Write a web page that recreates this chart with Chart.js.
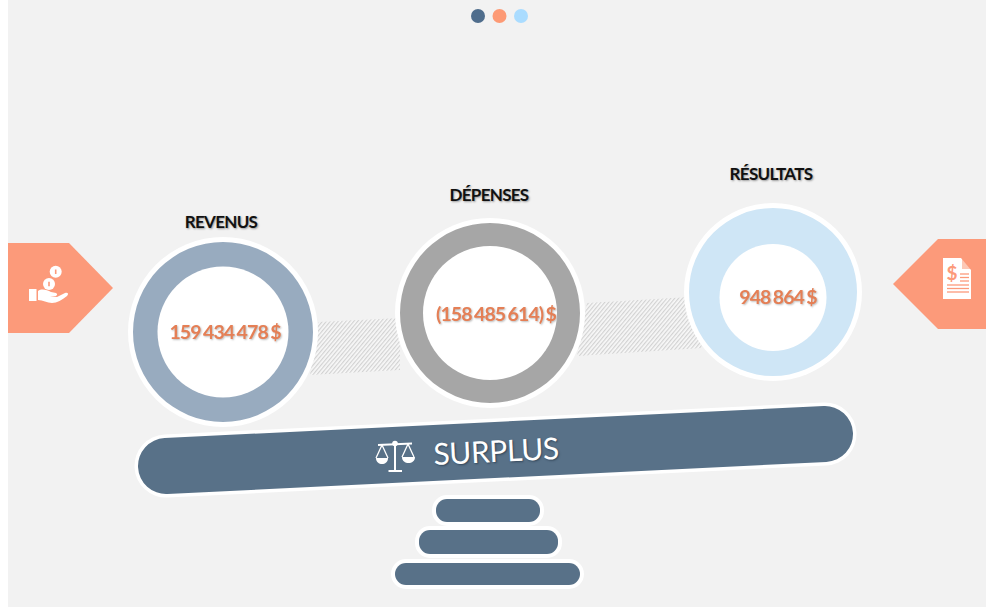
<!DOCTYPE html>
<html lang="fr">
<head>
<meta charset="utf-8">
<title>Surplus</title>
<script src="https://cdn.jsdelivr.net/npm/chart.js@4"></script>
<style>
html, body { margin: 0; padding: 0; background: #fff; }
#page { position: absolute; left: 8px; top: 0; width: 978px; height: 607px; background: #f2f2f2; overflow: hidden; }
#stage { position: absolute; left: 0; top: 0; width: 986px; height: 607px; overflow: hidden; }
#stage svg { position: absolute; left: 0; top: 0; }
#stage canvas { position: absolute; }
.title, .amount, .surplus { position: absolute; white-space: nowrap; font-family: Lato, sans-serif; transform: translate(-50%, -50%); }
.title { font-size: 17px; font-weight: 700; color: #111; letter-spacing: -0.7px; text-shadow: 1px 1px 2px #999; }
.amount { font-size: 19.5px; font-weight: 700; color: #e57f55; letter-spacing: -0.9px; word-spacing: -1.5px; text-shadow: 1px 1px 2px #bbb; }
.surplus { left: 496px; top: 450px; font-size: 30px; letter-spacing: -0.4px; color: #fff; transform: translate(-50%, -50%) rotate(-2.8deg); text-shadow: 1px 1px 2px #33475a; }
</style>
</head>
<body>
<div id="page"></div>
<div id="stage">
<svg width="986" height="607" viewBox="0 0 986 607">
  <defs>
    <pattern id="hatch" width="3" height="3" patternUnits="userSpaceOnUse" patternTransform="rotate(-50)">
      <rect width="3" height="3" fill="#f8f8f8"/>
      <rect width="3" height="1.2" fill="#d2d2d2"/>
    </pattern>
  </defs>
  <!-- bandes hachurees entre les cercles -->
  <polygon points="318,322 400,318 400,370 310,375" fill="url(#hatch)"/>
  <polygon points="587,303 690,297 702,348 577,356" fill="url(#hatch)"/>

  <!-- pastilles du haut -->
  <circle cx="478" cy="16" r="7" fill="#4f6d8c"/>
  <circle cx="499.5" cy="16" r="7" fill="#fd9a75"/>
  <circle cx="521" cy="16" r="7" fill="#aadcff"/>

  <!-- fleches laterales -->
  <polygon points="8,243 69,243 113,288 69,333 8,333" fill="#fc9a7a"/>
  <polygon points="986,239 938,239 893,284 938,329 986,329" fill="#fc9a7a"/>

  <!-- icone main et pieces -->
  <circle cx="55.7" cy="271.7" r="6" fill="#fff"/>
  <circle cx="49" cy="284" r="6" fill="#fff"/>
  <line x1="55.7" y1="269.5" x2="55.7" y2="274" stroke="#fc9a7a" stroke-width="1.6"/>
  <line x1="49" y1="281.8" x2="49" y2="286.2" stroke="#fc9a7a" stroke-width="1.6"/>
  <rect x="29" y="289" width="7.5" height="12" fill="#fff"/>
  <path d="M38 291 C42 288 47 290 51 292 L56 293 C58 294 57 296 55 296 L50 296 L57 297 L65 293 C68 292 69 294 67 296 C62 300 57 303 52 303 C47 303 43 300 38 300 Z" fill="#fff"/>

  <!-- icone document -->
  <path d="M943 258 L961 258 L971 270 L971 299 L943 299 Z" fill="#fff"/>
  <path d="M962 258 L971 269 L962 269 Z" fill="#fc9a7a" opacity="0.55"/>
  <text x="952" y="280" font-family="Lato, sans-serif" font-size="19" font-weight="700" fill="#fc9a7a" text-anchor="middle">$</text>
  <g stroke="#fc9a7a" stroke-width="1.3">
    <line x1="960" y1="274" x2="969" y2="274"/>
    <line x1="960" y1="277.5" x2="969" y2="277.5"/>
    <line x1="960" y1="281" x2="969" y2="281"/>
    <line x1="947" y1="285" x2="969" y2="285"/>
    <line x1="947" y1="288.5" x2="969" y2="288.5"/>
    <line x1="947" y1="292" x2="969" y2="292"/>
  </g>

  <!-- fleau de la balance -->
  <line x1="166" y1="466" x2="825" y2="434" stroke="#fff" stroke-width="63" stroke-linecap="round"/>
  <line x1="166" y1="466" x2="825" y2="434" stroke="#587188" stroke-width="56" stroke-linecap="round"/>

  <!-- icone balance -->
  <g stroke="#fff" fill="none" stroke-width="1.3">
    <line x1="378" y1="445" x2="412" y2="443.5" stroke-width="1.8"/>
    <line x1="395" y1="444" x2="395" y2="470" stroke-width="2"/>
    <line x1="388.5" y1="471" x2="402" y2="471" stroke-width="2"/>
    <path d="M382 445 L376 458 M382 445 L388 458 M408 444 L402 457 M408 444 L414 457"/>
  </g>
  <circle cx="395" cy="443.5" r="2.8" fill="#fff"/>
  <path d="M376 458 L388 458 C388 466 376 466 376 458 Z" fill="#fff"/>
  <path d="M402 457 L415 457 C415 465 402 465 402 457 Z" fill="#fff"/>

  <!-- socle -->
  <g stroke="#fff" stroke-width="8" fill="#587188" paint-order="stroke">
    <rect x="436" y="499" width="104" height="23" rx="11"/>
    <rect x="419" y="530" width="139" height="24" rx="11"/>
    <rect x="395" y="563" width="185" height="22" rx="11"/>
  </g>
</svg>
<div class="surplus">SURPLUS</div>
</div>
<script>
// valeurs
var categories = ['REVENUS', 'DÉPENSES', 'RÉSULTATS'];
var amounts = [159434478, -158485614, 948864];
var ringColors = ['#98abbf', '#a6a6a6', '#cfe6f6'];

// position de chaque cercle dans la page
var rings = [
    { x: 223, y: 331.5, r: 90, hole: 65.5, holeDy: 0, titleX: 221, titleY: 221, amountX: 225, amountY: 331 },
    { x: 490, y: 313, r: 90, hole: 67, holeDy: 0, titleX: 489, titleY: 194, amountX: 496, amountY: 313 },
    { x: 772.5, y: 292, r: 84, hole: 53.5, holeDy: 5.5, titleX: 771, titleY: 173, amountX: 778, amountY: 296 }
];

function formatAmount(v) {
    var s = String(Math.abs(v)).replace(/\B(?=(\d{3})+$)/g, ' ');
    return v < 0 ? '(' + s + ') $' : s + ' $';
}

// halo blanc derriere l'anneau, et trou blanc devant
var discPlugin = {
    id: 'disc',
    beforeDatasetsDraw: function (chart, args, opts) {
        var arc = chart.getDatasetMeta(0).data[0];
        var c = chart.ctx;
        c.save();
        c.fillStyle = '#fff';
        c.beginPath();
        c.arc(arc.x, arc.y, opts.r + 5, 0, Math.PI * 2);
        c.fill();
        c.restore();
    },
    afterDatasetsDraw: function (chart, args, opts) {
        var arc = chart.getDatasetMeta(0).data[0];
        var c = chart.ctx;
        c.save();
        c.fillStyle = '#fff';
        c.beginPath();
        c.arc(arc.x, arc.y + opts.holeDy, opts.hole, 0, Math.PI * 2);
        c.fill();
        c.restore();
    }
};

var stage = document.getElementById('stage');

categories.forEach(function (name, i) {
    var ring = rings[i];
    var size = Math.ceil(ring.r + 8) * 2;

    var canvas = document.createElement('canvas');
    canvas.width = size;
    canvas.height = size;
    canvas.style.width = size + 'px';
    canvas.style.height = size + 'px';
    canvas.style.left = (ring.x - size / 2) + 'px';
    canvas.style.top = (ring.y - size / 2) + 'px';
    stage.appendChild(canvas);

    new Chart(canvas.getContext('2d'), {
        type: 'doughnut',
        data: {
            labels: [name],
            datasets: [{
                data: [Math.abs(amounts[i])],
                backgroundColor: ringColors[i],
                borderWidth: 0
            }]
        },
        options: {
            responsive: false,
            animation: false,
            radius: ring.r,
            cutout: ring.hole - 6,
            plugins: {
                legend: { display: false },
                tooltip: { enabled: false },
                disc: { r: ring.r, hole: ring.hole, holeDy: ring.holeDy }
            }
        },
        plugins: [discPlugin]
    });

    var title = document.createElement('div');
    title.className = 'title';
    title.textContent = name;
    title.style.left = ring.titleX + 'px';
    title.style.top = ring.titleY + 'px';
    stage.appendChild(title);

    var amount = document.createElement('div');
    amount.className = 'amount';
    amount.textContent = formatAmount(amounts[i]);
    amount.style.left = ring.amountX + 'px';
    amount.style.top = ring.amountY + 'px';
    stage.appendChild(amount);
});
</script>
</body>
</html>
